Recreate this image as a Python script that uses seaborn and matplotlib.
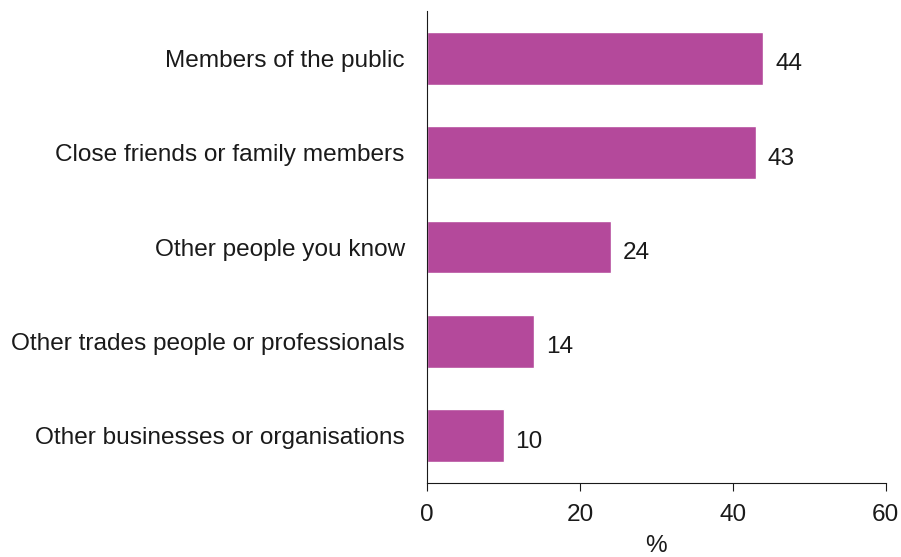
import matplotlib
matplotlib.use("Agg")
import matplotlib.pyplot as plt
import seaborn as sns
import pandas as pd

# Who the respondents talked to
categories = [
    "Members of the public",
    "Close friends or family members",
    "Other people you know",
    "Other trades people or professionals",
    "Other businesses or organisations",
]
values = [44, 43, 24, 14, 10]
x_ticks = [0, 20, 40, 60]

bar_color = "#b4499b"
text_color = "#1a1a1a"
fs = 17.6

sns.set_style("white")
plt.rcParams["font.family"] = ["Liberation Sans", "DejaVu Sans"]

df = pd.DataFrame({"category": categories, "value": values})

fig = plt.figure(figsize=(9.01, 5.57), dpi=100)
ax = fig.add_axes([0.474, 0.133, 0.509, 0.847])

sns.barplot(data=df, x="value", y="category", orient="h", color=bar_color,
            width=0.56, saturation=1, ax=ax)

for patch, v in zip(ax.patches, values):
    ax.annotate(f"{v}", xy=(patch.get_width(), patch.get_y() + patch.get_height() / 2),
                xytext=(8.5, -2.5), textcoords="offset points",
                ha="left", va="center_baseline", fontsize=fs, color=text_color)

ax.set_xlim(0, 60)
ax.set_ylim(4.5, -0.5)
ax.set_xticks(x_ticks)
ax.set_xticklabels([str(t) for t in x_ticks])
ax.set_ylabel("")
ax.set_xlabel("%", fontsize=fs, color=text_color)
ax.xaxis.set_label_coords(0.5, -0.110)

ax.tick_params(axis="x", length=6, width=0.8, direction="out", pad=9,
               labelsize=fs, colors=text_color, bottom=True)
ax.tick_params(axis="y", length=0, pad=16, labelsize=fs, colors=text_color)

for side in ["top", "right"]:
    ax.spines[side].set_visible(False)
for side in ["left", "bottom"]:
    ax.spines[side].set_color(text_color)
    ax.spines[side].set_linewidth(0.8)

fig.savefig("out.png", dpi=100)
